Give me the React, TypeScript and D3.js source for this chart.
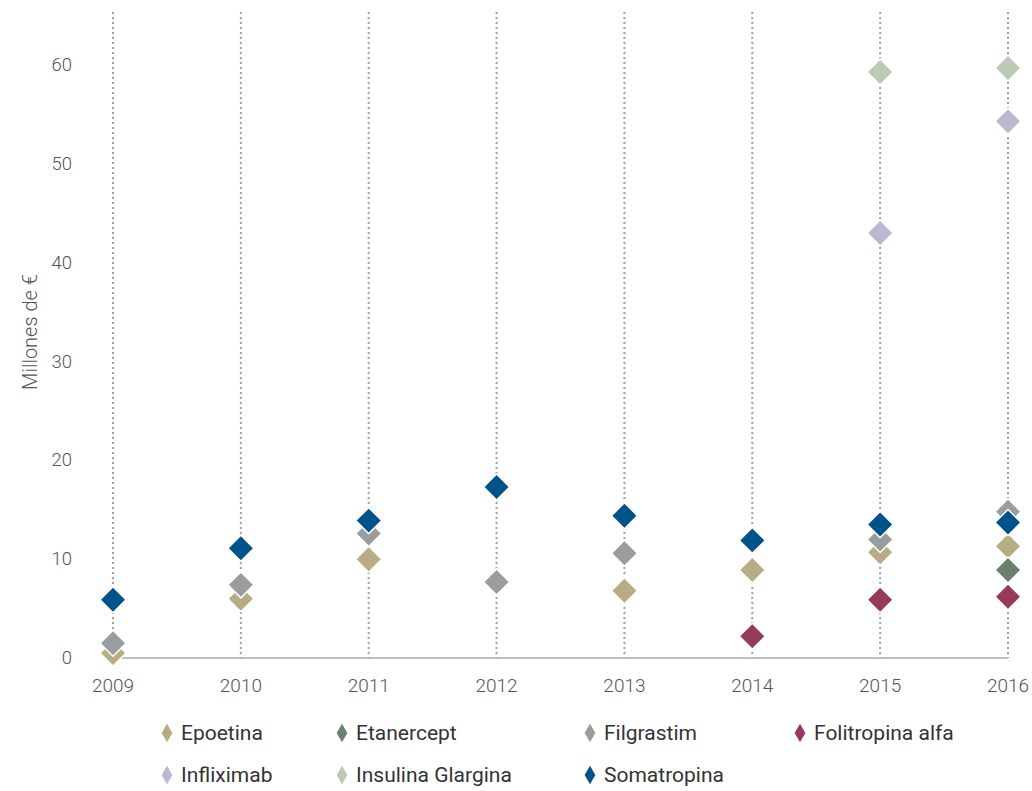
import * as d3 from 'd3';
import { useEffect, useRef } from 'react';

const years = ['2009', '2010', '2011', '2012', '2013', '2014', '2015', '2016'];
const yTicks = [0, 10, 20, 30, 40, 50, 60];

// one value per year, null = no point
const epoetina = [0.5, 6.0, 10.0, null, 6.8, 8.9, 10.7, 11.3];
const etanercept = [null, null, null, null, null, null, null, 8.9];
const filgrastim = [1.5, 7.4, 12.6, 7.7, 10.6, null, 12.0, 14.8];
const folitropina = [null, null, null, null, null, 2.2, 5.9, 6.2];
const infliximab = [null, null, null, null, null, null, 43.0, 54.3];
const insulina = [null, null, null, null, null, null, 59.3, 59.7];
const somatropina = [5.9, 11.1, 13.9, 17.3, 14.4, 11.9, 13.5, 13.7];

const series = [
  { name: 'Epoetina', color: '#b8ac82', values: epoetina },
  { name: 'Etanercept', color: '#6b8170', values: etanercept },
  { name: 'Filgrastim', color: '#9a9d9e', values: filgrastim },
  { name: 'Folitropina alfa', color: '#963a5b', values: folitropina },
  { name: 'Infliximab', color: '#bcb8d4', values: infliximab },
  { name: 'Insulina Glargina', color: '#bccab3', values: insulina },
  { name: 'Somatropina', color: '#00538a', values: somatropina },
];

const width = 1032;
const height = 791;
const font = 'Roboto, "Open Sans", sans-serif';

export default function App() {
  const svgRef = useRef<SVGSVGElement>(null);

  useEffect(() => {
    document.body.style.margin = '0';
    document.body.style.overflow = 'hidden';
    if (!svgRef.current) return;
    const svg = d3.select(svgRef.current);
    svg.selectAll('*').remove();

    const x = d3.scalePoint().domain(years).range([113, 1008]);
    const y = d3.scaleLinear().domain([0, 60]).range([658, 65]);

    // dotted verticals
    svg
      .append('g')
      .selectAll('line')
      .data(years)
      .enter()
      .append('line')
      .attr('x1', (d) => x(d) || 0)
      .attr('x2', (d) => x(d) || 0)
      .attr('y1', 12)
      .attr('y2', y(0))
      .attr('stroke', '#a0a0a0')
      .attr('stroke-width', 2)
      .attr('stroke-dasharray', '2,3');

    // baseline
    svg
      .append('line')
      .attr('x1', x(years[0]) || 0)
      .attr('x2', x(years[years.length - 1]) || 0)
      .attr('y1', y(0))
      .attr('y2', y(0))
      .attr('stroke', '#aaaaaa')
      .attr('stroke-width', 1.5);

    // y tick labels
    svg
      .append('g')
      .selectAll('text')
      .data(yTicks)
      .enter()
      .append('text')
      .attr('x', 72)
      .attr('y', (d) => y(d))
      .attr('text-anchor', 'end')
      .attr('dominant-baseline', 'central')
      .attr('fill', '#555')
      .style('font-family', font)
      .style('font-weight', 300)
      .style('font-size', '18.5px')
      .text((d) => d);

    // x tick labels
    svg
      .append('g')
      .selectAll('text')
      .data(years)
      .enter()
      .append('text')
      .attr('x', (d) => x(d) || 0)
      .attr('y', 685)
      .attr('text-anchor', 'middle')
      .attr('dominant-baseline', 'central')
      .attr('fill', '#555')
      .style('font-family', font)
      .style('font-weight', 300)
      .style('font-size', '19px')
      .text((d) => d);

    // axis title
    svg
      .append('text')
      .attr('transform', 'translate(30, 332) rotate(-90)')
      .attr('text-anchor', 'middle')
      .attr('dominant-baseline', 'central')
      .attr('fill', '#555')
      .style('font-family', font)
      .style('font-weight', 300)
      .style('font-size', '20px')
      .text('Millones de €');

    // diamonds
    const diamond = d3.symbol().type(d3.symbolSquare).size(340)();
    series.forEach((s) => {
      const pts = s.values
        .map((v, i) => ({ year: years[i], v }))
        .filter((p) => p.v !== null) as { year: string; v: number }[];
      svg
        .append('g')
        .selectAll('path')
        .data(pts)
        .enter()
        .append('path')
        .attr('d', diamond)
        .attr('transform', (p) => `translate(${x(p.year)}, ${y(p.v)}) rotate(45)`)
        .attr('fill', s.color)
        .attr('stroke', '#fff')
        .attr('stroke-width', 1.5);
    });

    // legend
    const legendX = [167, 342, 590, 800];
    const legendY = [733, 775];
    const small = d3.symbol().type(d3.symbolDiamond).size(100)();
    const lg = svg
      .append('g')
      .selectAll('g')
      .data(series)
      .enter()
      .append('g')
      .attr(
        'transform',
        (_, i) => `translate(${legendX[i % 4]}, ${legendY[Math.floor(i / 4)]})`
      );
    lg.append('path')
      .attr('d', small)
      .attr('fill', (d) => d.color);
    lg.append('text')
      .attr('x', 14)
      .attr('y', 0)
      .attr('dominant-baseline', 'central')
      .attr('fill', '#333')
      .style('font-family', font)
      .style('font-size', '21px')
      .text((d) => d.name);
  }, []);

  return (
    <svg
      ref={svgRef}
      width={width}
      height={height}
      style={{ display: 'block', position: 'absolute', left: 0, top: 0 }}
    />
  );
}
